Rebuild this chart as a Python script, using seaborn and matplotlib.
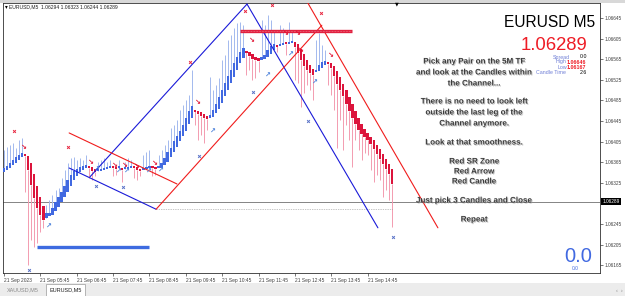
import numpy as np
import pandas as pd
import seaborn as sns
import matplotlib
matplotlib.use("Agg")
import matplotlib.pyplot as plt
import matplotlib.patheffects as pe
from matplotlib.patches import Rectangle
from matplotlib.transforms import blended_transform_factory

# ---------------- data ----------------
first_open = 1.06346
ha_close = [
    1.06354, 1.06358, 1.06364, 1.06370, 1.06375, 1.06379, 1.06383, 1.06377, 1.06350, 1.06321,
    1.06296, 1.06276, 1.06263, 1.06253, 1.06257, 1.06265, 1.06276, 1.06288, 1.06298, 1.06307,
    1.06319, 1.06331, 1.06340, 1.06348, 1.06352, 1.06356, 1.06358, 1.06360, 1.06354, 1.06348,
    1.06346, 1.06348, 1.06352, 1.06354, 1.06356, 1.06358, 1.06354, 1.06352, 1.06354, 1.06350,
    1.06352, 1.06356, 1.06358, 1.06354, 1.06350, 1.06348, 1.06352, 1.06356, 1.06358, 1.06354,
    1.06352, 1.06356, 1.06364, 1.06373, 1.06385, 1.06393, 1.06406, 1.06416, 1.06426, 1.06437,
    1.06451, 1.06465, 1.06474, 1.06467, 1.06459, 1.06455, 1.06451, 1.06449, 1.06455, 1.06467,
    1.06478, 1.06492, 1.06505, 1.06519, 1.06532, 1.06544, 1.06558, 1.06569, 1.06579, 1.06587,
    1.06579, 1.06571, 1.06565, 1.06564, 1.06562, 1.06565, 1.06573, 1.06583, 1.06591, 1.06595,
    1.06593, 1.06595, 1.06597, 1.06595, 1.06598, 1.06600, 1.06589, 1.06577, 1.06564, 1.06552,
    1.06544, 1.06538, 1.06534, 1.06544, 1.06554, 1.06560, 1.06562, 1.06556, 1.06548, 1.06532,
    1.06517, 1.06505, 1.06494, 1.06478, 1.06465, 1.06451, 1.06439, 1.06428, 1.06420, 1.06414,
    1.06408, 1.06401, 1.06391, 1.06381, 1.06371, 1.06362, 1.06352, 1.06342, 1.06323,
]
wick_end = [
    1.06389, 1.06395, 1.06399, 1.06403, 1.06393, 1.06408, 1.06412, 1.06307, 1.06166, 1.06214,
    1.06201, 1.06209, 1.06230, 1.06238, 1.06282, 1.06292, 1.06302, 1.06311, 1.06315, 1.06335,
    1.06350, 1.06364, 1.06373, 1.06375, 1.06370, 1.06373, 1.06370, 1.06379, 1.06335, 1.06331,
    1.06338, 1.06366, 1.06370, 1.06373, 1.06366, 1.06370, 1.06338, 1.06340, 1.06370, 1.06327,
    1.06366, 1.06373, 1.06370, 1.06335, 1.06331, 1.06338, 1.06379, 1.06385, 1.06389, 1.06338,
    1.06340, 1.06379, 1.06389, 1.06399, 1.06408, 1.06432, 1.06437, 1.06447, 1.06467, 1.06476,
    1.06486, 1.06496, 1.06544, 1.06437, 1.06408, 1.06418, 1.06403, 1.06428, 1.06531, 1.06505,
    1.06515, 1.06529, 1.06564, 1.06573, 1.06602, 1.06612, 1.06626, 1.06635, 1.06637, 1.06631,
    1.06534, 1.06544, 1.06525, 1.06529, 1.06540, 1.06641, 1.06631, 1.06651, 1.06641, 1.06622,
    1.06579, 1.06631, 1.06626, 1.06573, 1.06637, 1.06622, 1.06525, 1.06519, 1.06472, 1.06500,
    1.06515, 1.06505, 1.06486, 1.06602, 1.06616, 1.06593, 1.06583, 1.06515, 1.06496, 1.06467,
    1.06393, 1.06447, 1.06389, 1.06437, 1.06408, 1.06356, 1.06408, 1.06389, 1.06370, 1.06383,
    1.06379, 1.06350, 1.06327, 1.06340, 1.06331, 1.06298, 1.06311, 1.06292, 1.06240,
]
x_tick_bars = [0, 12, 24, 36, 48, 60, 72, 84, 96, 108, 120]
x_tick_labels = ["21 Sep 2023", "21 Sep 05:45", "21 Sep 06:45", "21 Sep 07:45", "21 Sep 08:45",
                 "21 Sep 09:45", "21 Sep 10:45", "21 Sep 11:45", "21 Sep 12:45", "21 Sep 13:45",
                 "21 Sep 14:45"]
y_ticks = [1.06645, 1.06605, 1.06565, 1.06525, 1.06485, 1.06445, 1.06405, 1.06365, 1.06325,
           1.06245, 1.06205, 1.06165]
y_tick_labels = ["1.06645", "1.06605", "1.06565", "1.06525", "1.06485", "1.06445", "1.06405",
                 "1.06365", "1.06325", "1.06245", "1.06205", "1.06165"]
last_price = 1.06289

# channel lines (bar index, price)
blue_seg_x = [[28.4, 80.2], [80.2, 123.4], [21.5, 50.2]]
blue_seg_y = [[1.06337, 1.06672], [1.06672, 1.06238], [1.06354, 1.06274]]
red_seg_x = [[21.5, 57.1], [50.2, 104.9], [99.3, 143.2]]
red_seg_y = [[1.06422, 1.06323], [1.06274, 1.06631], [1.06684, 1.06238]]
sr_zone_x = [77.9, 114.9]
sr_zone_y = 1.06620
support_x = [10.9, 47.9]
support_y = 1.06201
dotted_x = [50.5, 128.0]
dotted_y = 1.06274

red_x_bar = [3.3, 21.1, 61.4, 79.5, 88.4, 104.6]
red_x_price = [1.06426, 1.06395, 1.06560, 1.06659, 1.06670, 1.06655]
blue_x_bar = [8.3, 30.4, 39.3, 64.4, 82.2, 100.3, 128.4]
blue_x_price = [1.06156, 1.06319, 1.06317, 1.06377, 1.06501, 1.06445, 1.06220]
red_arrow_bar = [6.3, 28.4, 36.3, 39.6, 43.6, 49.5, 63.7, 81.5, 92.7, 96.7, 97.7, 107.6]
red_arrow_price = [1.06395, 1.06366, 1.06360, 1.06360, 1.06358, 1.06364, 1.06482, 1.06602,
                   1.06616, 1.06616, 1.06583, 1.06573]
blue_arrow_bar = [14.5, 30.4, 37.6, 40.3, 47.5, 51.5, 68.6, 86.8, 94.4, 102.3]
blue_arrow_price = [1.06241, 1.06350, 1.06346, 1.06346, 1.06346, 1.06348, 1.06424, 1.06534,
                    1.06573, 1.06519]

message_lines = ["Pick any Pair on the 5M TF", "and look at the Candles within", "the Channel...",
                 "There is no need to look left", "outside the last leg of the", "Channel anymore.",
                 "Look at that smoothness.", "Red SR Zone", "Red Arrow", "Red Candle",
                 "Just pick 3 Candles and Close", "Repeat"]
message_ypix = [62, 73, 84, 102, 113, 124, 143, 162, 172, 182, 201, 220]

# ---------------- styling ----------------
sns.set_theme(style="white")
plt.rcParams['font.family'] = ['Liberation Sans', 'DejaVu Sans']

W, H = 625, 296
fig = plt.figure(figsize=(W / 100, H / 100), dpi=100)
fig.patch.set_facecolor("white")

def fx(x):
    return x / W

def fy(y):
    return 1 - y / H

# window chrome
fig.add_artist(Rectangle((0, fy(3)), 1, 3 / H, transform=fig.transFigure, color="#D8D8D8", lw=0))
fig.add_artist(Rectangle((0, 0), 1, fy(283), transform=fig.transFigure, color="#ECECEC", lw=0))
fig.add_artist(Rectangle((fx(46), 0), 39 / W, fy(284), transform=fig.transFigure,
                         facecolor="white", edgecolor="#9A9A9A", lw=0.5))
fig.text(fx(23), fy(290), "XAUUSD,M5", fontsize=4, color="#8A8A8A", ha="center", va="center")
fig.text(fx(65.5), fy(290), "EURUSD,M5", fontsize=4, color="#202020", ha="center", va="center")
fig.text(fx(619), fy(290), "‹  ›", fontsize=4, color="#8A8A8A", ha="center", va="center")

ax = fig.add_axes([fx(3), fy(273), (600 - 3) / W, (273 - 3) / H])
ax.set_facecolor("white")

n = len(ha_close)
xs = np.arange(n)
closes = np.array(ha_close)
prev_close = np.array([first_open] + ha_close[:-1])
# Heikin-Ashi open: midpoint of the previous candle's body
opens = np.empty(n)
opens[0] = first_open
for i in range(1, n):
    opens[i] = (opens[i - 1] + closes[i - 1]) / 2
up = closes >= prev_close
bottoms = np.minimum(opens, closes)
heights = np.maximum(np.abs(closes - opens), 0.00004)

wick_cols = np.where(up, "#A3B9EE", "#F39BB0")
ax.vlines(xs, closes, np.array(wick_end), colors=wick_cols, lw=0.7, zorder=2)
ax.bar(xs, heights, bottom=bottoms, width=0.75,
       color=np.where(up, "#4169E1", "#DC143C"), linewidth=0, zorder=3)

# channel lines via seaborn
rows = []
for k, (sx, sy) in enumerate(zip(blue_seg_x, blue_seg_y)):
    rows += [dict(seg=f"b{k}", x=sx[0], y=sy[0]), dict(seg=f"b{k}", x=sx[1], y=sy[1])]
df_b = pd.DataFrame(rows)
rows = []
for k, (sx, sy) in enumerate(zip(red_seg_x, red_seg_y)):
    rows += [dict(seg=f"r{k}", x=sx[0], y=sy[0]), dict(seg=f"r{k}", x=sx[1], y=sy[1])]
df_r = pd.DataFrame(rows)
sns.lineplot(data=df_b, x="x", y="y", units="seg", estimator=None, color="#1A1AD8", lw=0.8,
             ax=ax, zorder=4, sort=False)
sns.lineplot(data=df_r, x="x", y="y", units="seg", estimator=None, color="#F01C1C", lw=0.8,
             ax=ax, zorder=4, sort=False)

ax.plot(sr_zone_x, [sr_zone_y] * 2, color="#E0203F", lw=2.4, zorder=4, solid_capstyle="butt")
ax.plot(sr_zone_x, [sr_zone_y] * 2, color="#F58A9C", lw=0.5, ls=(0, (1, 1.2)), zorder=4)
ax.plot(support_x, [support_y] * 2, color="#3D6BE0", lw=2.4, zorder=4, solid_capstyle="butt")
ax.plot(dotted_x, [dotted_y] * 2, color="#8C8C8C", lw=0.5, ls=(0, (1, 1.5)), zorder=2)
ax.axhline(last_price, color="#707070", lw=0.6, zorder=1)

ax.scatter(red_x_bar, red_x_price, marker="x", s=4, color="#E8263F", linewidths=0.7, zorder=5)
ax.scatter(blue_x_bar, blue_x_price, marker="x", s=4, color="#5A72C8", linewidths=0.7, zorder=5)
for b, p in zip(red_arrow_bar, red_arrow_price):
    ax.text(b, p, "↘", fontsize=5, color="#E01030", ha="center", va="center",
            fontweight="bold", family="DejaVu Sans", zorder=6)
for b, p in zip(blue_arrow_bar, blue_arrow_price):
    ax.text(b, p, "↗", fontsize=5, color="#4A80DA", ha="center", va="center",
            fontweight="bold", family="DejaVu Sans", zorder=6)

ax.set_xlim(-0.33, 196.7)
ax.set_ylim(1.061503, 1.066741)

ax.yaxis.tick_right()
ax.set_yticks(y_ticks)
ax.set_yticklabels(y_tick_labels)
ax.set_xticks(x_tick_bars)
ax.set_xticklabels(x_tick_labels, ha="left")
ax.tick_params(axis="y", labelsize=3.4, length=2, width=0.5, pad=1.5, colors="#404040",
               right=True, left=False)
ax.tick_params(axis="x", labelsize=3.5, length=2, width=0.5, pad=1.5, colors="#404040",
               bottom=True)
ax.set_xlabel("")
ax.set_ylabel("")
for s in ax.spines.values():
    s.set_color("#303030")
    s.set_linewidth(0.6)

# price tag
trans = blended_transform_factory(ax.transAxes, ax.transData)
ax.text(1.004, last_price, "1.06289", transform=trans, fontsize=3.4, color="white",
        ha="left", va="center", clip_on=False,
        bbox=dict(boxstyle="square,pad=0.25", fc="black", ec="black", lw=0))

# header text
fig.text(fx(5), fy(7), "▾", fontsize=4, color="black", ha="left", va="center",
         family="DejaVu Sans")
fig.text(fx(9), fy(7), "EURUSD,M5  1.06294 1.06323 1.06244 1.06289", fontsize=3.6,
         color="#202020", ha="left", va="center")
fig.text(fx(397), fy(4), "▼", fontsize=3.5, color="black", ha="center", va="center",
         family="DejaVu Sans")

fig.text(fx(595), fy(27), "EURUSD M5", fontsize=11.2, color="black", ha="right", va="baseline")

# info block
fig.text(fx(587), fy(49.5), "1.06289", fontsize=13.3, color="#EE1C25", ha="right",
         va="baseline")
fig.text(fx(553), fy(57), "Spread", fontsize=3.8, color="#6F7FD6", ha="left", va="center")
fig.text(fx(580), fy(57), "0.0", fontsize=3.8, color="black", ha="left", va="center")
fig.text(fx(567), fy(62), "High", fontsize=3.8, color="#6F7FD6", ha="right", va="center")
fig.text(fx(567), fy(62), "1.06646", fontsize=3.8, color="#EE1C25", ha="left", va="center",
         fontweight="bold")
fig.text(fx(567), fy(67.5), "Low", fontsize=3.8, color="#6F7FD6", ha="right", va="center")
fig.text(fx(567), fy(67.5), "1.06167", fontsize=3.8, color="#EE1C25", ha="left", va="center",
         fontweight="bold")
fig.text(fx(536), fy(73), "Candle Time", fontsize=3.8, color="#6F7FD6", ha="left", va="center")
fig.text(fx(580), fy(73), "2:6", fontsize=3.8, color="black", ha="left", va="center")

fig.text(fx(592), fy(262), "0.0", fontsize=14.5, color="#4169E1", ha="right", va="baseline")
fig.text(fx(575), fy(268), "0.0", fontsize=3.5, color="#4169E1", ha="center", va="center")

shadow = [pe.withSimplePatchShadow(offset=(0.7, -0.7), shadow_rgbFace="#9A9A9A", alpha=0.6)]
for line, yp in zip(message_lines, message_ypix):
    fig.text(fx(474), fy(yp), line, fontsize=5.8, fontweight="bold", color="#3C3C3C",
             ha="center", va="center", path_effects=shadow)

fig.savefig("out.png", dpi=100)
